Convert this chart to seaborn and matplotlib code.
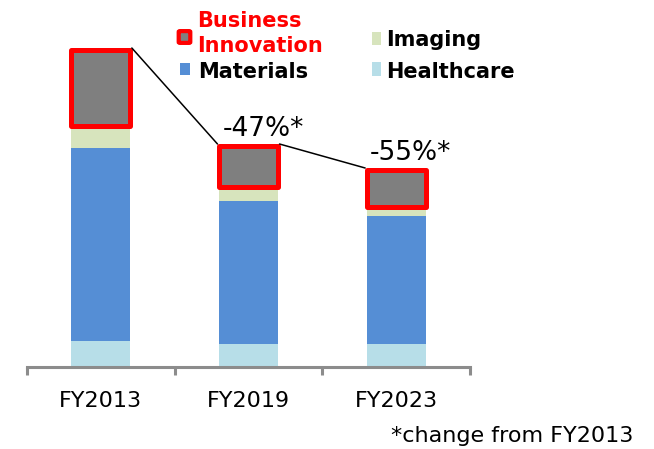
import numpy as np
import pandas as pd
import seaborn as sns
import matplotlib.pyplot as plt
from matplotlib.patches import Rectangle, FancyBboxPatch

# values (arbitrary units, same scale for all segments)
years = ["FY2013", "FY2019", "FY2023"]
healthcare = [26, 23, 23]
materials = [193, 143, 128]
imaging = [22, 14, 9]
business_innovation = [76, 41, 37]
change_labels = ["", "-47%*", "-55%*"]

colors = {
    "Healthcare": "#B7DEE8",
    "Materials": "#558ED5",
    "Imaging": "#D7E4BD",
    "Business Innovation": "#7F7F7F",
}

sns.set_style("white")
plt.rcParams["font.family"] = ["DejaVu Sans"]
plt.rcParams["text.color"] = "black"
plt.rcParams["xtick.color"] = "black"

df = pd.DataFrame({
    "year": years,
    "Healthcare": healthcare,
    "Materials": materials,
    "Imaging": imaging,
    "Business Innovation": business_innovation,
})

fig = plt.figure(figsize=(6.54, 4.49), dpi=100)
ax = fig.add_axes([27 / 654, 82 / 449, 443 / 654, 367 / 449])

bar_w = 0.4
bottom = np.zeros(len(df))
for seg in ["Healthcare", "Materials", "Imaging", "Business Innovation"]:
    if seg == "Business Innovation":
        extra = dict(edgecolor="#FF0000", linewidth=3.6, joinstyle="round")
    else:
        extra = dict(edgecolor="none", linewidth=0)
    sns.barplot(data=df, x="year", y=seg, bottom=bottom.copy(), color=colors[seg],
                saturation=1, width=bar_w, errorbar=None, ax=ax, **extra)
    bottom += df[seg].to_numpy()

totals = bottom
# connector lines between the tops of the Business Innovation boxes
for i in range(len(years) - 1):
    ax.plot([i + bar_w / 2 + 0.01, i + 1 - bar_w / 2 - 0.01],
            [totals[i] + 2, totals[i + 1] + 2], color="black", lw=1.1, zorder=5)

for i, lab in enumerate(change_labels):
    if lab:
        ax.text(i + 0.1, totals[i] + 10, lab, ha="center", va="baseline",
                fontsize=19, color="black")

ax.set_ylim(0, 367)
ax.set_xlim(-0.5, len(years) - 0.5)
ax.set_ylabel("")
ax.set_xlabel("")
ax.set_yticks([])
for s in ["top", "right", "left"]:
    ax.spines[s].set_visible(False)
ax.spines["bottom"].set_color("#8C8C8C")
ax.spines["bottom"].set_linewidth(2.2)
ax.set_xticks(np.arange(-0.5, len(years)), minor=True)
ax.tick_params(axis="x", which="minor", bottom=True, length=6, width=2.2,
               color="#8C8C8C", direction="out")
ax.tick_params(axis="x", which="major", bottom=True, length=0, pad=17,
               labelsize=16, labelcolor="black")

# legend drawn by hand
def fy(py):
    return 1 - py / 449

def fx(px):
    return px / 654

fig.add_artist(FancyBboxPatch((fx(180), fy(42)), fx(9), 10 / 449,
                              boxstyle="round,pad=0.002", transform=fig.transFigure,
                              facecolor="#7F7F7F", edgecolor="#FF0000", linewidth=3))
fig.add_artist(Rectangle((fx(180), fy(75)), fx(10), 12 / 449, transform=fig.transFigure,
                         facecolor=colors["Materials"], edgecolor="none"))
fig.add_artist(Rectangle((fx(372), fy(45)), fx(9), 13 / 449, transform=fig.transFigure,
                         facecolor=colors["Imaging"], edgecolor="none"))
fig.add_artist(Rectangle((fx(372), fy(76)), fx(9), 14 / 449, transform=fig.transFigure,
                         facecolor=colors["Healthcare"], edgecolor="none"))

fig.text(fx(197), fy(27), "Business", color="#FF0000", fontsize=15, fontweight="bold", va="baseline")
fig.text(fx(197), fy(52), "Innovation", color="#FF0000", fontsize=15, fontweight="bold", va="baseline")
fig.text(fx(198), fy(78), "Materials", color="black", fontsize=15, fontweight="bold", va="baseline")
fig.text(fx(386), fy(46), "Imaging", color="black", fontsize=15, fontweight="bold", va="baseline")
fig.text(fx(386), fy(78), "Healthcare", color="black", fontsize=15, fontweight="bold", va="baseline")

fig.text(fx(633), fy(442), "*change from FY2013", ha="right", va="baseline", fontsize=16)

fig.savefig("out.png", dpi=100)
